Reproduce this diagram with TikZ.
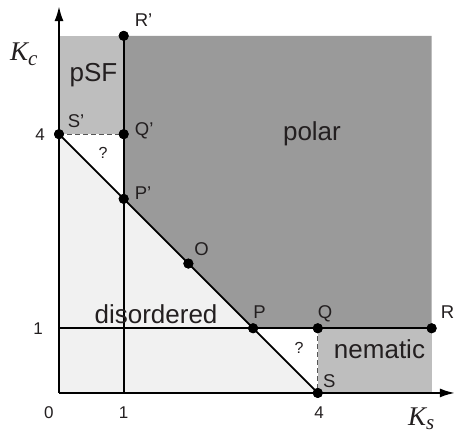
\documentclass[tikz,border=0pt]{standalone}
\usepackage{fontspec}
\setmainfont{Liberation Sans}
\newfontfamily\kfont{Liberation Serif}
\usetikzlibrary{arrows.meta}
\definecolor{polarc}{HTML}{9A9A9A}
\definecolor{midc}{HTML}{BEBEBE}
\definecolor{lightc}{HTML}{F1F1F1}
\definecolor{txt}{HTML}{231F20}
\definecolor{dashc}{HTML}{555555}
\begin{document}
\begin{tikzpicture}[x=64.7pt,y=64.7pt,
  dot/.style={circle,fill=black,inner sep=0pt,minimum size=10pt},
  big/.style={font=\fontsize{26}{30}\selectfont,text=txt,inner sep=0pt},
  lab/.style={font=\fontsize{18.5}{21}\selectfont,text=txt,inner sep=0pt},
  ticklab/.style={font=\fontsize{17}{20}\selectfont,text=txt,inner sep=0pt},
  qm/.style={font=\fontsize{16}{19}\selectfont,text=txt,inner sep=0pt},
  axlab/.style={font=\kfont\itshape\fontsize{27}{30}\selectfont,text=txt,inner sep=0pt},
  ln/.style={line width=1.7pt},
  ax/.style={line width=2pt,-{Latex[length=15pt,width=9pt]}},
  dsh/.style={line width=1.2pt,dashc,dash pattern=on 5pt off 3pt}
]
\useasboundingbox (-0.912,-0.618) rectangle (6.121,6.074);
% regions
\fill[lightc] (0,0) -- (0,4) -- (4,0) -- cycle;
\fill[midc] (0,4) rectangle (1,5.52);
\fill[midc] (4,0) rectangle (5.76,1);
\fill[polarc] (1,5.52) -- (5.76,5.52) -- (5.76,1) -- (3,1) -- (1,3) -- cycle;
% coordinates
\coordinate (orig) at (0,0);
\coordinate (xend) at (6.12,0);
\coordinate (yend) at (0,5.98);
\coordinate (y1) at (0,1);
\coordinate (x1) at (1,0);
% points
\node[dot] (O) at (2,2) {};
\node[dot] (P) at (3,1) {};
\node[dot] (Q) at (4,1) {};
\node[dot] (R) at (5.76,1) {};
\node[dot] (S) at (4,0) {};
\node[dot] (Pp) at (1,3) {};
\node[dot] (Qp) at (1,4) {};
\node[dot] (Rp) at (1,5.52) {};
\node[dot] (Sp) at (0,4) {};
% lines
\draw[dsh] (Sp.center) -- (Qp.center);
\draw[dsh] (Q.center) -- (S.center);
\draw[ln] (y1) -- (R.center);
\draw[ln] (x1) -- (Rp.center);
\draw[ln] (Sp.center) -- (S.center);
\draw[ax] (orig) -- (xend);
\draw[ax] (orig) -- (yend);
% redraw dots on top
\foreach \n in {O,P,Q,R,S,Pp,Qp,Rp,Sp} \fill (\n.center) circle (5pt);
% labels
\node[lab,anchor=base west] (lRp) at (1.17,5.67) {R’};
\node[big,anchor=base] (lpsf) at (0.533,4.808) {pSF};
\node[lab,anchor=base] (lSp) at (0.263,4.096) {S’};
\node[lab,anchor=base west] (lQp) at (1.17,3.98) {Q’};
\node[qm,anchor=base] (lq1) at (0.68,3.62) {?};
\node[lab,anchor=base west] (lPp) at (1.17,2.99) {P’};
\node[big,anchor=base] (lpolar) at (3.91,3.9) {polar};
\node[lab,anchor=base west] (lO) at (2.09,2.13) {O};
\node[big,anchor=base] (ldis) at (1.5,1.08) {disordered};
\node[lab,anchor=base west] (lP) at (3.0,1.144) {P};
\node[lab,anchor=base west] (lQ) at (4.0,1.144) {Q};
\node[lab,anchor=base west] (lR) at (5.9,1.144) {R};
\node[qm,anchor=base] (lq2) at (3.71,0.603) {?};
\node[big,anchor=base] (lnem) at (4.954,0.54) {nematic};
\node[lab,anchor=base west] (lS) at (4.08,0.077) {S};
\node[ticklab,anchor=base] (tx0) at (-0.155,-0.40) {0};
\node[ticklab,anchor=base] (tx1) at (1,-0.40) {1};
\node[ticklab,anchor=base] (tx4) at (4.02,-0.40) {4};
\node[ticklab,anchor=base east] (ty4) at (-0.216,3.90) {4};
\node[ticklab,anchor=base east] (ty1) at (-0.247,0.91) {1};
\node[axlab,anchor=base west] (kc) at (-0.757,5.146) {K\raisebox{-0.22em}{\fontsize{21}{21}\selectfont c}};
\node[axlab,anchor=base west] (ks) at (5.394,-0.51) {K\raisebox{-0.14em}{\fontsize{21}{21}\selectfont s}};
\end{tikzpicture}
\end{document}
